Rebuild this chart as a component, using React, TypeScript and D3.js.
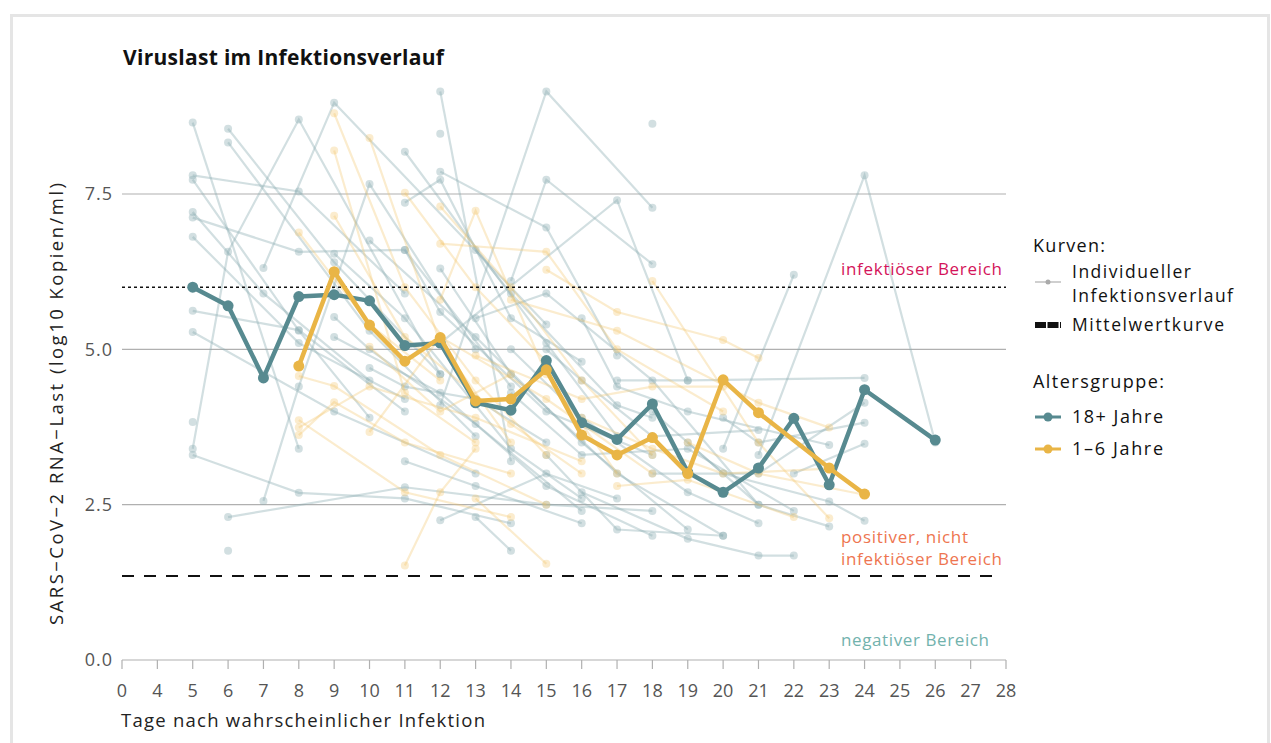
import { useEffect, useRef } from "react";
import * as d3 from "d3";

// x axis categories (days after probable infection)
const dayTicks = [0, 4, 5, 6, 7, 8, 9, 10, 11, 12, 13, 14, 15, 16, 17, 18, 19, 20, 21, 22, 23, 24, 25, 26, 27, 28];
const yTicks = [0, 2.5, 5, 7.5];

// mean curves
const adultDays = [5, 6, 7, 8, 9, 10, 11, 12, 13, 14, 15, 16, 17, 18, 19, 20, 21, 22, 23, 24, 26];
const adultMean = [6.0, 5.7, 4.54, 5.85, 5.88, 5.78, 5.06, 5.1, 4.14, 4.02, 4.82, 3.82, 3.55, 4.12, 3.02, 2.7, 3.09, 3.89, 2.82, 4.35, 3.54];
const childDays = [8, 9, 10, 11, 12, 13, 14, 15, 16, 17, 18, 19, 20, 21, 23, 24];
const childMean = [4.73, 6.25, 5.39, 4.81, 5.19, 4.17, 4.2, 4.67, 3.62, 3.3, 3.58, 3.0, 4.51, 3.98, 3.09, 2.67];

// individual courses, [day, log10 copies/ml]
const adultCourses: number[][][] = [
  [[5, 8.65], [8, 3.4]],
  [[6, 8.55], [9, 6.4], [12, 4.6]],
  [[6, 8.33], [10, 5.3], [13, 3.6]],
  [[5, 3.4], [6, 6.57], [8, 8.7], [12, 4.6]],
  [[7, 6.31], [9, 8.97], [15, 5.4]],
  [[5, 7.8], [8, 7.54], [11, 5.9]],
  [[5, 7.73], [8, 5.3], [10, 3.9]],
  [[5, 7.21], [7, 5.9], [10, 4.5]],
  [[5, 7.12], [8, 6.57], [11, 6.6], [14, 4.4]],
  [[5, 6.81], [8, 5.1], [11, 4.2]],
  [[11, 8.18], [15, 5.1], [17, 3.6]],
  [[12, 9.15], [14, 3.2]],
  [[12, 4.1], [15, 9.15], [18, 7.28]],
  [[14, 6.1], [15, 7.73], [18, 6.37]],
  [[12, 5.1], [17, 7.4], [19, 4.5]],
  [[12, 7.86], [15, 6.96], [17, 4.9]],
  [[11, 7.36], [12, 7.73], [14, 5.5], [16, 4.8]],
  [[20, 3.4], [22, 6.2]],
  [[21, 3.3], [24, 7.8], [26, 3.5]],
  [[5, 3.3], [8, 2.69], [11, 2.6], [14, 2.2]],
  [[6, 2.3], [11, 2.78], [15, 2.5], [18, 2.4]],
  [[7, 2.56], [8, 4.4], [10, 7.66], [13, 5.0]],
  [[6, 1.76]],
  [[5, 3.83]],
  [[5, 5.62], [8, 5.31], [11, 4.0]],
  [[5, 5.28], [9, 4.0], [13, 3.0]],
  [[9, 6.54], [11, 5.5], [14, 3.4], [16, 2.6]],
  [[9, 5.2], [12, 4.3], [15, 2.8], [18, 2.0]],
  [[10, 6.75], [13, 5.2], [16, 3.5], [19, 2.1]],
  [[11, 6.6], [12, 5.6], [15, 4.0], [18, 3.3]],
  [[9, 5.52], [10, 5.0], [13, 3.8], [16, 2.4]],
  [[12, 6.3], [14, 4.6], [17, 3.0], [20, 2.0]],
  [[13, 5.5], [15, 5.9], [18, 4.5], [21, 2.5]],
  [[14, 4.3], [16, 3.3], [19, 3.4], [22, 2.4]],
  [[15, 5.0], [16, 4.5], [18, 3.6], [21, 3.7]],
  [[16, 5.5], [17, 4.4], [19, 4.0], [23, 3.46]],
  [[17, 4.5], [19, 4.5], [24, 4.54]],
  [[18, 4.0], [20, 3.0], [23, 2.55], [24, 2.24]],
  [[19, 3.5], [21, 2.5], [23, 2.15]],
  [[16, 2.7], [19, 1.95], [21, 1.68], [22, 1.68]],
  [[13, 2.3], [14, 1.76]],
  [[15, 3.3], [17, 2.1], [20, 2.0]],
  [[11, 3.2], [13, 2.8], [16, 2.2]],
  [[20, 3.9], [21, 3.5], [24, 3.82]],
  [[18, 3.0], [21, 3.0], [24, 4.14]],
  [[22, 3.0], [24, 3.48]],
  [[12, 2.25], [15, 3.0], [17, 2.6]],
  [[14, 5.0], [16, 3.9], [19, 2.7], [21, 2.2]],
  [[10, 4.7], [11, 4.4], [13, 4.2], [15, 3.5]],
  [[12, 8.47]],
  [[18, 8.63]],
  [[13, 6.6], [14, 5.9], [17, 4.1], [18, 3.9]],
];

const childCourses: number[][][] = [
  [[8, 6.88], [10, 5.4], [12, 4.5]],
  [[9, 8.8], [11, 6.0], [13, 4.5], [15, 3.3]],
  [[9, 8.2], [11, 4.3], [13, 3.5]],
  [[10, 8.4], [12, 5.1], [14, 3.5]],
  [[9, 7.15], [11, 5.2], [14, 3.8], [16, 3.0]],
  [[11, 7.52], [13, 6.0], [15, 4.8]],
  [[12, 7.3], [14, 6.0], [16, 4.5], [18, 3.3]],
  [[12, 6.7], [15, 6.57], [17, 5.0], [20, 4.0]],
  [[12, 5.8], [13, 7.23], [15, 4.6], [17, 3.0]],
  [[15, 6.28], [17, 5.6], [20, 5.15], [21, 4.86]],
  [[14, 5.8], [17, 5.3], [21, 4.14], [23, 3.74]],
  [[18, 6.1], [21, 3.5], [23, 2.28]],
  [[8, 4.57], [9, 4.41], [12, 3.3], [15, 2.5]],
  [[8, 3.86], [11, 2.7], [14, 2.3]],
  [[8, 3.74], [10, 4.4], [13, 3.9], [16, 3.2]],
  [[8, 3.62], [9, 4.15], [11, 3.5], [14, 3.0]],
  [[10, 3.67], [12, 5.2], [15, 4.2], [18, 3.0]],
  [[10, 5.04], [12, 4.0], [14, 4.6]],
  [[11, 1.52], [12, 2.7], [13, 3.4]],
  [[13, 2.6], [15, 1.55]],
  [[16, 3.9], [18, 3.4], [20, 3.0], [23, 3.08]],
  [[19, 3.5], [21, 3.0], [24, 2.66]],
  [[17, 2.8], [19, 2.9], [22, 2.3]],
  [[13, 4.9], [16, 4.2], [18, 4.4], [20, 4.4]],
];

const infectiousLimit = 6;
const negativeLimit = 1.35;

const teal = "#578a90";
const yellow = "#e9b546";
const font = "'Open Sans', 'Noto Sans', sans-serif";

const App = () => {
  const ref = useRef<SVGSVGElement>(null);

  useEffect(() => {
    const svg = d3.select(ref.current);
    svg.selectAll("*").remove();

    const margin = { left: 122, right: 265 };
    const width = 1271;

    const x = d3
      .scalePoint<string>()
      .domain(dayTicks.map(String))
      .range([margin.left, width - margin.right]);
    const y = d3.scaleLinear().domain([0, 7.5]).range([660, 194]);
    const px = (d: number) => x(String(d)) as number;

    // helper for text stretched to the width seen in the original
    const txt = (g: any, s: string, tx: number, ty: number, len: number, size: number, color: string) =>
      g
        .append("text")
        .attr("x", tx)
        .attr("y", ty)
        .attr("font-family", font)
        .attr("font-size", size)
        .attr("fill", color)
        .attr("textLength", len)
        .attr("lengthAdjust", "spacing")
        .text(s);

    // frame
    svg
      .append("rect")
      .attr("x", 11.5)
      .attr("y", 15.5)
      .attr("width", 1257)
      .attr("height", 740)
      .attr("fill", "white")
      .attr("stroke", "#e5e5e5")
      .attr("stroke-width", 3);

    // title
    txt(svg, "Viruslast im Infektionsverlauf", 123, 65, 321, 21, "#111").attr("font-weight", 700);

    // grid
    const x0 = px(0);
    const x1 = px(28);
    svg
      .append("g")
      .selectAll("line")
      .data(yTicks.filter((t) => t > 0))
      .join("line")
      .attr("x1", x0)
      .attr("x2", x1)
      .attr("y1", (d) => y(d))
      .attr("y2", (d) => y(d))
      .attr("stroke", "#b0b0b0")
      .attr("stroke-width", 1.2);

    // y tick labels
    svg
      .append("g")
      .selectAll("text")
      .data(yTicks)
      .join("text")
      .attr("x", 113)
      .attr("y", (d) => y(d))
      .attr("dy", "0.35em")
      .attr("text-anchor", "end")
      .attr("font-family", font)
      .attr("font-size", 18)
      .attr("letter-spacing", 1)
      .attr("fill", "#555")
      .text((d) => d3.format(".1f")(d));

    // x axis
    const xAxis = svg.append("g").attr("transform", `translate(0, ${y(0)})`);
    xAxis
      .append("line")
      .attr("x1", x0)
      .attr("x2", x1)
      .attr("stroke", "#b0b0b0")
      .attr("stroke-width", 1.2);
    xAxis
      .selectAll("line.tick")
      .data(dayTicks)
      .join("line")
      .attr("class", "tick")
      .attr("x1", (d) => px(d))
      .attr("x2", (d) => px(d))
      .attr("y1", 0)
      .attr("y2", 9)
      .attr("stroke", "#b0b0b0")
      .attr("stroke-width", 1.2);
    xAxis
      .selectAll("text")
      .data(dayTicks)
      .join("text")
      .attr("x", (d) => px(d))
      .attr("y", 37)
      .attr("text-anchor", "middle")
      .attr("font-family", font)
      .attr("font-size", 18)
      .attr("fill", "#555")
      .text((d) => d);

    // axis titles
    txt(svg, "Tage nach wahrscheinlicher Infektion", 121, 727, 364, 18.5, "#222");
    txt(
      svg.append("g").attr("transform", `translate(63, 625) rotate(-90)`),
      "SARS\u2212CoV\u22122 RNA\u2212Last (log10 Kopien/ml)",
      0,
      0,
      442,
      18.5,
      "#222"
    );

    const line = d3
      .line<number[]>()
      .x((d) => px(d[0]))
      .y((d) => y(d[1]));

    // individual courses
    const drawCourses = (courses: number[][][], color: string, opacity: number) => {
      const g = svg.append("g");
      courses.forEach((c) => {
        g.append("path")
          .attr("d", line(c))
          .attr("fill", "none")
          .attr("stroke", color)
          .attr("stroke-opacity", opacity)
          .attr("stroke-width", 2.2);
        g.selectAll(null)
          .data(c)
          .enter()
          .append("circle")
          .attr("cx", (d) => px(d[0]))
          .attr("cy", (d) => y(d[1]))
          .attr("r", 4)
          .attr("fill", color)
          .attr("fill-opacity", opacity);
      });
    };
    drawCourses(adultCourses, "#8fb0b4", 0.4);
    drawCourses(childCourses, "#f2c56a", 0.33);

    // threshold lines
    svg
      .append("line")
      .attr("x1", x0)
      .attr("x2", x1)
      .attr("y1", y(infectiousLimit))
      .attr("y2", y(infectiousLimit))
      .attr("stroke", "#111")
      .attr("stroke-width", 1.6)
      .attr("stroke-dasharray", "3,3");
    svg
      .append("line")
      .attr("x1", x0)
      .attr("x2", x1 - 4)
      .attr("y1", y(negativeLimit))
      .attr("y2", y(negativeLimit))
      .attr("stroke", "#111")
      .attr("stroke-width", 2)
      .attr("stroke-dasharray", "12,10");

    // region labels
    txt(svg, "infektiöser Bereich", 841, 275, 161, 17, "#d4145a");
    txt(svg, "positiver, nicht", 841, 543, 127, 17, "#ee7550");
    txt(svg, "infektiöser Bereich", 841, 565, 161, 17, "#ee7550");
    txt(svg, "negativer Bereich", 841, 646, 148, 17, "#72b2ad");

    // mean curves
    const drawMean = (days: number[], vals: number[], color: string) => {
      const pts = days.map((d, i) => [d, vals[i]]);
      svg
        .append("path")
        .attr("d", line(pts))
        .attr("fill", "none")
        .attr("stroke", color)
        .attr("stroke-width", 4.5)
        .attr("stroke-linejoin", "round");
      svg
        .append("g")
        .selectAll("circle")
        .data(pts)
        .join("circle")
        .attr("cx", (d) => px(d[0]))
        .attr("cy", (d) => y(d[1]))
        .attr("r", 5.5)
        .attr("fill", color);
    };
    drawMean(adultDays, adultMean, teal);
    drawMean(childDays, childMean, yellow);

    // legend
    const lg = svg.append("g");
    const ink = "#111";
    txt(lg, "Kurven:", 1033, 252, 72, 18, ink);
    lg.append("line").attr("x1", 1035).attr("x2", 1061).attr("y1", 282).attr("y2", 282).attr("stroke", "#cfcfcf").attr("stroke-width", 2);
    lg.append("circle").attr("cx", 1048).attr("cy", 282).attr("r", 2.5).attr("fill", "#aaa");
    txt(lg, "Individueller", 1072, 278, 119, 17.5, ink);
    txt(lg, "Infektionsverlauf", 1072, 302, 161, 17.5, ink);
    lg.append("line").attr("x1", 1035).attr("x2", 1061).attr("y1", 325).attr("y2", 325).attr("stroke", "#111").attr("stroke-width", 6).attr("stroke-dasharray", "11,1.5");
    txt(lg, "Mittelwertkurve", 1072, 331, 152, 17.5, ink);
    txt(lg, "Altersgruppe:", 1033, 388, 131, 18, ink);
    [
      { t: "18+ Jahre", c: teal, yy: 417 },
      { t: "1\u20136 Jahre", c: yellow, yy: 449 },
    ].forEach((it) => {
      lg.append("line").attr("x1", 1035).attr("x2", 1061).attr("y1", it.yy).attr("y2", it.yy).attr("stroke", it.c).attr("stroke-width", 3);
      lg.append("circle").attr("cx", 1048).attr("cy", it.yy).attr("r", 4.5).attr("fill", it.c);
      txt(lg, it.t, 1072, it.yy + 6, 91, 18, ink);
    });
  }, []);

  return (
    <div style={{ position: "absolute", left: 0, top: 0 }}>
      <svg ref={ref} width={1271} height={743} style={{ display: "block" }} />
    </div>
  );
};

export default App;
